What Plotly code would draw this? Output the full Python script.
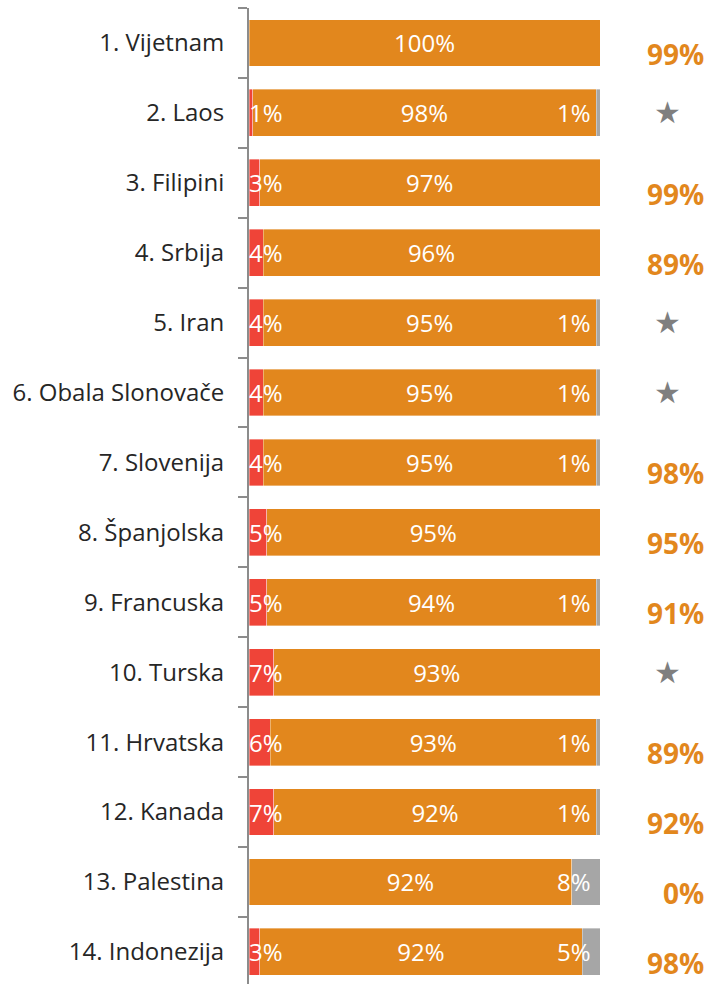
import plotly.graph_objects as go

# Survey results per country (share of answers, %)
countries = ["1. Vijetnam", "2. Laos", "3. Filipini", "4. Srbija", "5. Iran",
             "6. Obala Slonovače", "7. Slovenija", "8. Španjolska", "9. Francuska",
             "10. Turska", "11. Hrvatska", "12. Kanada", "13. Palestina", "14. Indonezija"]
red_vals = [0, 1, 3, 4, 4, 4, 4, 5, 5, 7, 6, 7, 0, 3]
orange_vals = [100, 98, 97, 96, 95, 95, 95, 95, 94, 93, 93, 92, 92, 92]
gray_vals = [0, 1, 0, 0, 1, 1, 1, 0, 1, 0, 1, 1, 8, 5]
# Right-hand column: percentage, or None where a star is shown
side_vals = [99, None, 99, 89, None, None, 98, 95, 91, None, 89, 92, 0, 98]

RED = "#EF4438"
ORANGE = "#E2871D"
GRAY = "#A6A6A6"
FONT = "Open Sans"
LABEL_SIZE = 24

fig = go.Figure()

bar_common = dict(orientation="h", y=countries, hoverinfo="skip",
                  marker_line=dict(color="rgba(255,255,255,0.6)", width=0.6))
fig.add_trace(go.Bar(x=red_vals, marker_color=RED, **bar_common))
fig.add_trace(go.Bar(
    x=orange_vals, marker_color=ORANGE,
    text=[f"{v}%" for v in orange_vals], textposition="inside",
    insidetextanchor="middle", constraintext="none", textangle=0,
    textfont=dict(family=FONT, size=LABEL_SIZE, color="white"), **bar_common))
fig.add_trace(go.Bar(x=gray_vals, marker_color=GRAY, **bar_common))

annotations = []
white_font = dict(family=FONT, size=LABEL_SIZE, color="white")
# Red segment labels, starting at the bar base
for c, v in zip(countries, red_vals):
    if v > 0:
        annotations.append(dict(x=0, y=c, xref="x", yref="y", text=f"{v}%",
                                showarrow=False, xanchor="left", xshift=-2,
                                font=white_font))
# Gray segment labels, right-aligned just inside the bar end
for c, v in zip(countries, gray_vals):
    if v > 0:
        annotations.append(dict(x=100, y=c, xref="x", yref="y", text=f"{v}%",
                                showarrow=False, xanchor="right", xshift=-7,
                                font=white_font))
# Right-hand column
for c, v in zip(countries, side_vals):
    if v is None:
        annotations.append(dict(x=119.2, y=c, xref="x", yref="y", text="★",
                                showarrow=False, xanchor="center",
                                font=dict(family="DejaVu Sans", size=30, color="#7F7F7F")))
    else:
        annotations.append(dict(x=130.3, y=c, xref="x", yref="y", text=f"<b>{v}%</b>",
                                showarrow=False, xanchor="right", yshift=-11,
                                font=dict(family=FONT, size=28, color=ORANGE)))

fig.update_layout(
    width=708, height=984,
    margin=dict(l=249, r=0, t=8, b=0),
    paper_bgcolor="white", plot_bgcolor="white",
    barmode="stack", bargap=0.33, showlegend=False,
    annotations=annotations,
    xaxis=dict(range=[0, 100 * 459 / 351], visible=False, fixedrange=True),
    # the last row runs slightly past the bottom edge of the figure
    yaxis=dict(range=[len(countries) - 0.54, -0.5], showline=True,
               linecolor="#8C8C8C", linewidth=2,
               ticks="outside", ticklen=9, tickwidth=2, tickcolor="#8C8C8C",
               tickson="boundaries", showgrid=False, ticklabelstandoff=18,
               tickfont=dict(family=FONT, size=LABEL_SIZE, color="#262626")),
)

fig.write_html("out.html")
